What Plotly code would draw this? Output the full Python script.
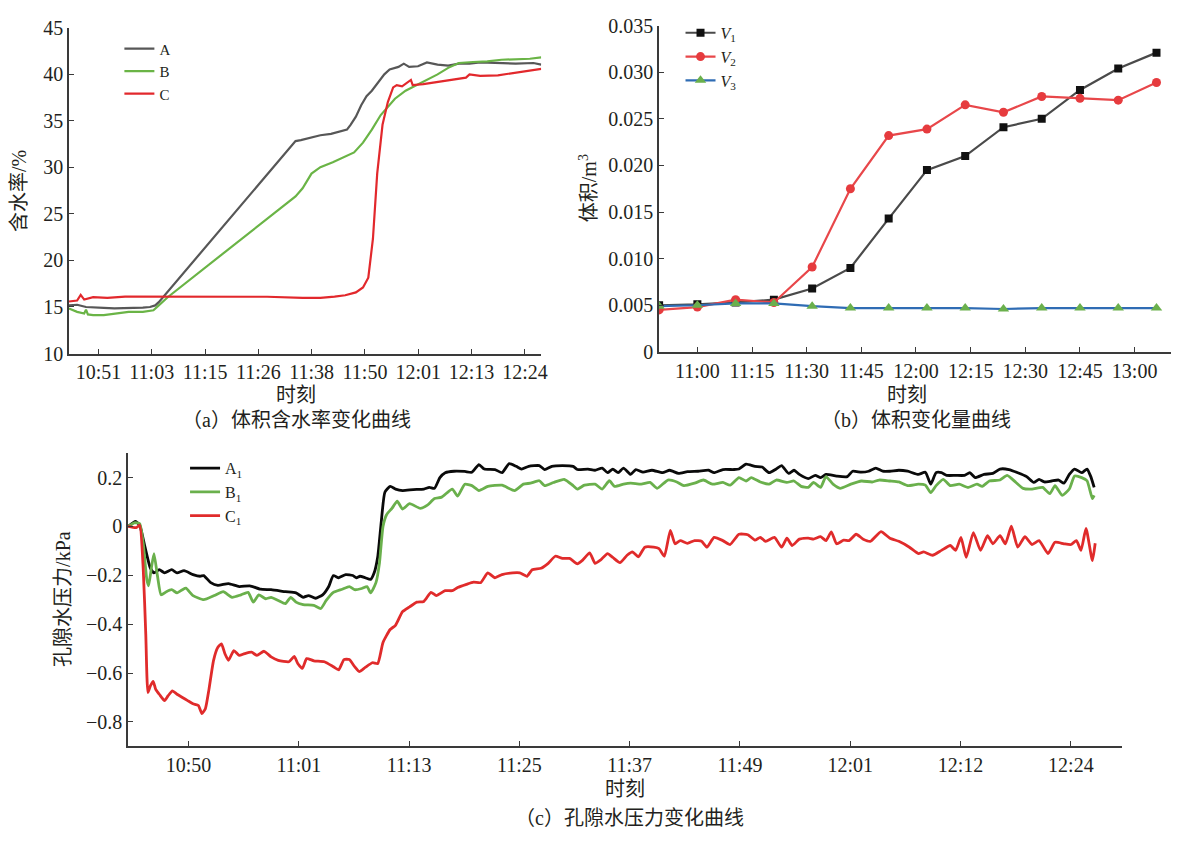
import plotly.graph_objects as go

W, H = 1178, 843
FONT = "Liberation Serif, Noto Sans CJK SC, serif"
TXT = "#231f20"
AXC = "#3a3a3a"

# ---------------- data (time in minutes after 10:00) ----------------
# (a) volumetric water content, %
A_ser = [(44.57, 15.17), (46.35, 15.24), (48.29, 15.0), (49.84, 14.93), (52.16, 14.9), (54.48, 14.86),
         (56.81, 14.86), (59.13, 14.9), (60.68, 14.93), (62.23, 15.0), (63.39, 15.17), (64.16, 15.52),
         (93.98, 32.83), (95.14, 32.94), (97.07, 33.18), (99.40, 33.46), (101.72, 33.6), (104.04, 33.95),
         (105.20, 34.06), (105.98, 34.58), (107.14, 35.45), (108.30, 36.68), (109.46, 37.66), (110.62, 38.25),
         (111.79, 38.95), (113.34, 40.0), (114.50, 40.52), (116.43, 40.8), (117.59, 41.15), (118.76, 40.8),
         (120.69, 40.87), (122.63, 41.29), (124.95, 41.05), (127.27, 40.94), (129.60, 41.15), (131.92, 41.15),
         (134.24, 41.29), (138.11, 41.22), (141.99, 41.15), (145.86, 41.22), (147.56, 41.05)]
B_ser = [(44.57, 14.83), (46.35, 14.48), (47.90, 14.30), (48.29, 14.72), (48.70, 14.2), (49.84, 14.13),
         (52.16, 14.13), (54.48, 14.3), (57.58, 14.48), (60.68, 14.48), (63.0, 14.65), (64.16, 15.17),
         (66.10, 16.05), (93.98, 26.89), (95.52, 27.76), (97.46, 29.34), (99.40, 30.03), (102.11, 30.56),
         (104.82, 31.15), (106.75, 31.61), (108.69, 32.66), (110.62, 34.06), (112.56, 35.63), (114.11, 36.5),
         (115.66, 37.38), (117.98, 38.25), (120.30, 38.85), (122.63, 39.4), (124.95, 40.0), (127.27, 40.7),
         (129.60, 41.22), (132.69, 41.33), (135.79, 41.4), (138.89, 41.57), (141.99, 41.64), (145.08, 41.68),
         (147.56, 41.82)]
C_ser = [(44.57, 15.59), (46.35, 15.7), (47.13, 16.3), (47.90, 15.8), (49.84, 16.05), (52.94, 15.98),
         (56.81, 16.12), (60.68, 16.12), (64.55, 16.15), (72.29, 16.12), (80.04, 16.1), (87.78, 16.1),
         (95.52, 15.98), (99.40, 15.98), (102.49, 16.12), (104.82, 16.26), (107.14, 16.57), (108.69, 17.1),
         (109.85, 18.15), (110.86, 22.34), (111.79, 29.34), (112.95, 34.58), (114.11, 37.03), (115.27, 38.6),
         (116.05, 38.85), (117.21, 38.71), (119.14, 39.4), (119.53, 38.85), (121.85, 38.95), (124.18, 39.13),
         (126.50, 39.3), (128.82, 39.48), (131.15, 39.65), (131.92, 40.0), (134.24, 39.83), (138.11, 39.9),
         (141.99, 40.17), (145.08, 40.35), (147.56, 40.59)]
TICKS_A = ["10:51", "11:03", "11:15", "11:26", "11:38", "11:50", "12:01", "12:13", "12:24"]

# (b) volume change, m^3
TIME_B = [49.5, 60, 70.5, 81, 91.5, 102, 112.5, 123, 133.5, 144, 154.5, 165, 175.5, 186]
V1 = [0.0050, 0.0051, 0.0053, 0.0056, 0.0068, 0.0090, 0.0143, 0.0195, 0.0210, 0.0241, 0.0250, 0.0281, 0.0304, 0.0321]
V2 = [0.0045, 0.0048, 0.0056, 0.0053, 0.0091, 0.0175, 0.0232, 0.0239, 0.0265, 0.0257, 0.0274, 0.0272, 0.0270, 0.0289]
V3 = [0.0049, 0.0050, 0.0052, 0.0052, 0.0049, 0.0047, 0.0047, 0.0047, 0.0047, 0.0046, 0.0047, 0.0047, 0.0047, 0.0047]
TICKS_B = ["11:00", "11:15", "11:30", "11:45", "12:00", "12:15", "12:30", "12:45", "13:00"]

# (c) pore water pressure, kPa
A1 = [(43.56, 0), (44.35, 0.021), (44.80, 0.005), (45.37, -0.085), (45.94, -0.171), (46.32, -0.190), (46.89, -0.177),
      (47.45, -0.190), (48.21, -0.177), (48.78, -0.190), (49.53, -0.181), (50.48, -0.197), (51.24, -0.204),
      (51.62, -0.201), (52.37, -0.230), (53.13, -0.241), (54.26, -0.234), (55.40, -0.246), (56.53, -0.243),
      (57.67, -0.257), (58.80, -0.259), (60.32, -0.267), (61.45, -0.272), (62.21, -0.290), (62.78, -0.283),
      (63.54, -0.294), (64.29, -0.280), (64.94, -0.246), (65.43, -0.201), (66.00, -0.210), (66.75, -0.197),
      (67.51, -0.201), (67.89, -0.210), (68.27, -0.204), (68.83, -0.210), (69.40, -0.217), (69.78, -0.190),
      (70.16, -0.124), (70.54, 0.021), (70.92, 0.140), (71.49, 0.164), (72.06, 0.153), (72.81, 0.147),
      (73.94, 0.151), (75.08, 0.153), (75.65, 0.160), (76.21, 0.156), (76.78, 0.200), (77.35, 0.220),
      (78.29, 0.226), (79.43, 0.225), (80.19, 0.222), (80.94, 0.253), (81.51, 0.235), (82.64, 0.233),
      (83.40, 0.220), (84.16, 0.257), (84.91, 0.246), (85.48, 0.235), (86.24, 0.246), (87.37, 0.249),
      (87.94, 0.233), (88.70, 0.246), (89.83, 0.249), (90.97, 0.246),
      (91.42, 0.233), (92.56, 0.235), (93.31, 0.230), (94.07, 0.239), (94.64, 0.220), (95.20, 0.235),
      (95.77, 0.220), (96.34, 0.239), (97.10, 0.213), (97.66, 0.233), (98.42, 0.222), (99.37, 0.230),
      (100.50, 0.220), (101.26, 0.230), (102.20, 0.217), (103.15, 0.224), (104.29, 0.226), (105.42, 0.230),
      (105.99, 0.220), (106.93, 0.233), (108.07, 0.233), (108.64, 0.235), (109.39, 0.255), (110.34, 0.246),
      (111.10, 0.243), (111.85, 0.220), (112.61, 0.235), (113.18, 0.249), (113.93, 0.217), (114.50, 0.230),
      (115.07, 0.213), (116.02, 0.196), (116.77, 0.209), (117.34, 0.200), (117.91, 0.213), (119.04, 0.206),
      (120.18, 0.204), (120.75, 0.226), (121.69, 0.222), (122.45, 0.226), (123.21, 0.239), (123.96, 0.226),
      (124.72, 0.226), (125.67, 0.230), (126.61, 0.226), (127.75, 0.213), (128.50, 0.222), (129.07, 0.173),
      (129.64, 0.220), (130.21, 0.220), (130.77, 0.209), (131.72, 0.209), (132.67, 0.209), (133.23, 0.220),
      (133.80, 0.200), (134.75, 0.213), (135.69, 0.217), (136.45, 0.235), (137.40, 0.233), (138.34, 0.220),
      (139.29, 0.204), (140.04, 0.180), (140.61, 0.193), (141.18, 0.182), (141.94, 0.186), (142.69, 0.190),
      (143.26, 0.177), (143.83, 0.213), (144.40, 0.235), (145.15, 0.220), (145.72, 0.235), (146.10, 0.206),
      (146.48, 0.160)]
B1 = [(43.56, 0), (44.24, 0.015), (44.80, 0.011), (45.18, -0.071), (45.56, -0.217), (45.75, -0.243), (46.02, -0.177),
      (46.32, -0.111), (46.70, -0.204), (47.08, -0.280), (47.64, -0.267), (48.21, -0.259), (48.78, -0.272),
      (49.35, -0.259), (49.72, -0.253), (50.48, -0.283), (51.62, -0.300), (52.75, -0.283), (53.70, -0.267),
      (54.64, -0.290), (55.59, -0.280), (56.35, -0.270), (56.91, -0.310), (57.48, -0.280), (58.24, -0.296),
      (58.80, -0.290), (59.56, -0.303), (60.32, -0.316), (60.89, -0.290), (61.45, -0.310), (62.21, -0.320),
      (63.35, -0.323), (64.10, -0.336), (64.67, -0.303), (65.43, -0.270), (66.37, -0.257), (67.13, -0.246),
      (67.70, -0.259), (68.45, -0.254), (69.02, -0.246), (69.40, -0.272), (69.97, -0.230), (70.34, -0.151),
      (70.72, 0.0), (71.10, 0.048), (71.67, 0.074), (72.24, 0.103), (72.80, 0.071), (73.56, 0.093),
      (74.70, 0.074), (75.45, 0.087), (76.21, 0.114), (76.97, 0.120), (78.10, 0.153), (78.67, 0.124),
      (79.43, 0.173), (80.19, 0.167), (80.94, 0.147), (81.89, 0.164), (83.40, 0.169), (84.73, 0.147),
      (85.67, 0.173), (86.43, 0.177), (87.37, 0.187), (87.94, 0.167), (88.88, 0.180), (90.02, 0.193),
      (90.97, 0.167),
      (91.42, 0.153), (92.18, 0.169), (93.31, 0.173), (94.07, 0.153), (94.83, 0.187), (95.39, 0.164),
      (96.34, 0.173), (97.10, 0.177), (98.23, 0.173), (99.18, 0.180), (99.93, 0.156), (101.07, 0.190),
      (102.02, 0.182), (102.77, 0.167), (103.91, 0.177), (104.85, 0.190), (105.80, 0.173), (106.93, 0.180),
      (107.69, 0.169), (108.64, 0.200), (109.39, 0.186), (109.96, 0.200), (110.91, 0.182), (111.85, 0.173),
      (112.61, 0.190), (113.74, 0.180), (114.50, 0.186), (115.26, 0.164), (116.02, 0.160), (116.58, 0.180),
      (117.34, 0.160), (117.91, 0.204), (118.66, 0.173), (119.42, 0.156), (120.56, 0.173), (121.69, 0.186),
      (122.83, 0.182), (123.58, 0.190), (124.72, 0.186), (125.67, 0.182), (126.61, 0.167), (127.75, 0.173),
      (128.50, 0.169), (129.07, 0.138), (129.64, 0.167), (130.40, 0.193), (131.15, 0.167), (132.10, 0.173),
      (133.04, 0.160), (133.99, 0.173), (134.56, 0.164), (135.31, 0.186), (136.45, 0.190), (137.21, 0.209),
      (138.15, 0.180), (138.91, 0.156), (139.86, 0.153), (140.99, 0.160), (141.75, 0.134), (142.31, 0.167),
      (143.07, 0.127), (143.83, 0.153), (144.40, 0.206), (145.15, 0.200), (145.72, 0.187), (146.29, 0.114),
      (146.48, 0.127)]
C1 = [(43.56, 0), (44.43, -0.005), (44.80, 0.005), (45.18, -0.177), (45.45, -0.442), (45.68, -0.680), (45.94, -0.653),
      (46.24, -0.634), (46.51, -0.667), (46.89, -0.687), (47.45, -0.713), (47.83, -0.693), (48.29, -0.673),
      (48.78, -0.687), (49.35, -0.700), (49.91, -0.713), (50.48, -0.726), (51.05, -0.733), (51.43, -0.766),
      (51.80, -0.746), (52.18, -0.667), (52.67, -0.548), (53.13, -0.495), (53.51, -0.481), (53.88, -0.521),
      (54.26, -0.548), (54.83, -0.508), (55.40, -0.528), (55.97, -0.521), (56.72, -0.515), (57.29, -0.528),
      (58.05, -0.511), (58.80, -0.534), (59.56, -0.548), (60.70, -0.554), (61.27, -0.532), (61.64, -0.561),
      (62.13, -0.581), (62.59, -0.541), (63.35, -0.550), (64.48, -0.554), (65.43, -0.574), (66.00, -0.587),
      (66.56, -0.545), (67.13, -0.545), (67.70, -0.574), (68.19, -0.594), (68.83, -0.577), (69.59, -0.558),
      (70.16, -0.561), (70.72, -0.475), (71.48, -0.422), (72.05, -0.405), (72.80, -0.349), (73.56, -0.329),
      (74.32, -0.310), (75.07, -0.307), (75.83, -0.270), (76.40, -0.283), (77.34, -0.263), (78.10, -0.263),
      (78.67, -0.250), (79.61, -0.237), (80.37, -0.228), (81.13, -0.230), (81.88, -0.190), (82.64, -0.210),
      (83.40, -0.197), (84.53, -0.190), (85.29, -0.190), (86.05, -0.204), (86.61, -0.177), (87.56, -0.171),
      (88.32, -0.151), (89.07, -0.122), (89.83, -0.131), (90.59, -0.131),
      (91.42, -0.153), (91.99, -0.138), (92.74, -0.108), (93.31, -0.151), (93.88, -0.138), (94.64, -0.111),
      (95.20, -0.127), (95.96, -0.148), (96.72, -0.118), (97.29, -0.104), (97.93, -0.124), (98.61, -0.085),
      (99.56, -0.085), (100.12, -0.091), (100.69, -0.122), (101.33, -0.016), (101.83, -0.071), (102.39, -0.058),
      (103.15, -0.069), (103.91, -0.058), (104.66, -0.061), (105.23, -0.085), (105.99, -0.045), (106.93, -0.058),
      (107.69, -0.074), (108.64, -0.032), (109.58, -0.034), (110.34, -0.056), (110.91, -0.045), (111.48, -0.061),
      (112.42, -0.045), (113.18, -0.085), (113.75, -0.048), (114.31, -0.078), (115.07, -0.052), (116.02, -0.048),
      (116.58, -0.052), (117.34, -0.042), (117.91, -0.058), (118.48, -0.022), (119.04, -0.071), (119.80, -0.056),
      (120.37, -0.058), (121.12, -0.032), (121.88, -0.052), (122.64, -0.061), (123.77, -0.021), (124.72, -0.048),
      (125.67, -0.061), (126.80, -0.085), (127.75, -0.111), (128.31, -0.104), (129.26, -0.118), (130.21, -0.098),
      (131.15, -0.078), (131.72, -0.098), (132.29, -0.045), (132.85, -0.127), (133.61, -0.025), (134.37, -0.098),
      (135.12, -0.038), (135.69, -0.071), (136.45, -0.038), (137.02, -0.071), (137.66, 0.001), (138.34, -0.085),
      (139.10, -0.042), (139.86, -0.074), (140.61, -0.058), (141.56, -0.111), (142.31, -0.065), (143.26, -0.071),
      (144.02, -0.074), (144.59, -0.058), (145.08, -0.098), (145.61, -0.008), (146.29, -0.140), (146.59, -0.069)]
TICKS_C = ["10:50", "11:01", "11:13", "11:25", "11:37", "11:49", "12:01", "12:12", "12:24"]


def xs(p):
    return p / W


def ys(p):
    return 1 - p / H


def xy(series):
    return [p[0] for p in series], [p[1] for p in series]


fig = go.Figure()

# panel a
for name, ser, col in [("A", A_ser, "#575757"), ("B", B_ser, "#6ab446"), ("C", C_ser, "#e2282c")]:
    x, y = xy(ser)
    fig.add_trace(go.Scatter(x=x, y=y, mode="lines", name=name, line=dict(color=col, width=2.2),
                             xaxis="x", yaxis="y", legend="legend"))

# panel b
for name, vals, lc, sym, mc, ms in [
    ("<i>V</i><sub>1</sub>", V1, "#4a4a4a", "square", "#111111", 8),
    ("<i>V</i><sub>2</sub>", V2, "#e8474a", "circle", "#e63b3e", 9),
    ("<i>V</i><sub>3</sub>", V3, "#2f6cb4", "triangle-up", "#6ab04c", 10),
]:
    fig.add_trace(go.Scatter(x=TIME_B, y=vals, mode="lines+markers", name=name,
                             line=dict(color=lc, width=2.2),
                             marker=dict(symbol=sym, color=mc, size=ms),
                             xaxis="x2", yaxis="y2", legend="legend2"))

# panel c
for name, ser, col in [("A<sub>1</sub>", A1, "#0a0a0a"), ("B<sub>1</sub>", B1, "#6ab04c"),
                       ("C<sub>1</sub>", C1, "#e02b2b")]:
    x, y = xy(ser)
    fig.add_trace(go.Scatter(x=x, y=y, mode="lines", name=name,
                             line=dict(color=col, width=2.8, shape="spline", smoothing=0.5),
                             xaxis="x3", yaxis="y3", legend="legend3"))

axis_common = dict(showline=True, linecolor=AXC, linewidth=1.6, ticks="inside", ticklen=5,
                   tickwidth=1.3, tickcolor=AXC, showgrid=False, zeroline=False,
                   tickfont=dict(family=FONT, size=20, color=TXT))

fig.update_layout(
    width=W, height=H, margin=dict(l=0, r=0, t=0, b=0),
    paper_bgcolor="white", plot_bgcolor="white",
    font=dict(family=FONT, color=TXT),
    xaxis=dict(axis_common, domain=[xs(69.3), xs(544)], anchor="y", range=[44.57, 147.56],
               tickmode="array", tickvals=[51 + 11.625 * i for i in range(len(TICKS_A))], ticktext=TICKS_A),
    yaxis=dict(axis_common, domain=[ys(351.7), ys(17.3)], anchor="x", range=[10, 45],
               tickmode="array", tickvals=list(range(10, 46, 5)), ticktext=[str(v) for v in range(10, 46, 5)]),
    xaxis2=dict(axis_common, domain=[xs(662.3), xs(1176.7)], anchor="y2", range=[49.45, 189.9],
                tickmode="array", tickvals=[60 + 15 * i for i in range(len(TICKS_B))], ticktext=TICKS_B),
    yaxis2=dict(axis_common, domain=[ys(350), ys(15)], anchor="x2", range=[0, 0.035],
                tickmode="array", tickvals=[0, 0.005, 0.01, 0.015, 0.02, 0.025, 0.03, 0.035],
                ticktext=["0", "0.005", "0.010", "0.015", "0.020", "0.025", "0.030", "0.035"]),
    xaxis3=dict(axis_common, domain=[xs(128.7), xs(1127.7)], anchor="y3", range=[43.56, 149.44],
                tickmode="array", tickvals=[50 + 11.75 * i for i in range(len(TICKS_C))], ticktext=TICKS_C),
    yaxis3=dict(axis_common, domain=[ys(755), ys(454)], anchor="x3", range=[-0.9, 0.3],
                tickmode="array", tickvals=[-0.8, -0.6, -0.4, -0.2, 0, 0.2],
                ticktext=["\u22120.8", "\u22120.6", "\u22120.4", "\u22120.2", "0", "0.2"]),
    legend=dict(x=xs(120), y=ys(22), xanchor="left", yanchor="top", bgcolor="rgba(0,0,0,0)",
                font=dict(family=FONT, size=15, color=TXT), tracegroupgap=0),
    legend2=dict(x=xs(684), y=ys(5), xanchor="left", yanchor="top", bgcolor="rgba(0,0,0,0)",
                 font=dict(family=FONT, size=16, color=TXT), tracegroupgap=0),
    legend3=dict(x=xs(186), y=ys(452), xanchor="left", yanchor="top", bgcolor="rgba(0,0,0,0)",
                 font=dict(family=FONT, size=16, color=TXT), tracegroupgap=0),
    showlegend=True,
)

ann = [
    ("含水率/%", 19, 185, -90),
    ("时刻", 298, 394, 0),
    ("（a）体积含水率变化曲线", 298, 420, 0),
    ("体积/m<sup>3</sup>", 591, 182, -90),
    ("时刻", 912, 394, 0),
    ("（b）体积变化量曲线", 921, 420, 0),
    ("孔隙水压力/kPa", 64, 604, -90),
    ("时刻", 628, 799, 0),
    ("（c）孔隙水压力变化曲线", 633, 829, 0),
]
for text, px, py, ang in ann:
    fig.add_annotation(text=text, x=xs(px), y=ys(py), xref="paper", yref="paper",
                       xanchor="center", yanchor="middle", showarrow=False, textangle=ang,
                       font=dict(family=FONT, size=20, color=TXT))

fig.write_html("out.html", config={"displayModeBar": False})
